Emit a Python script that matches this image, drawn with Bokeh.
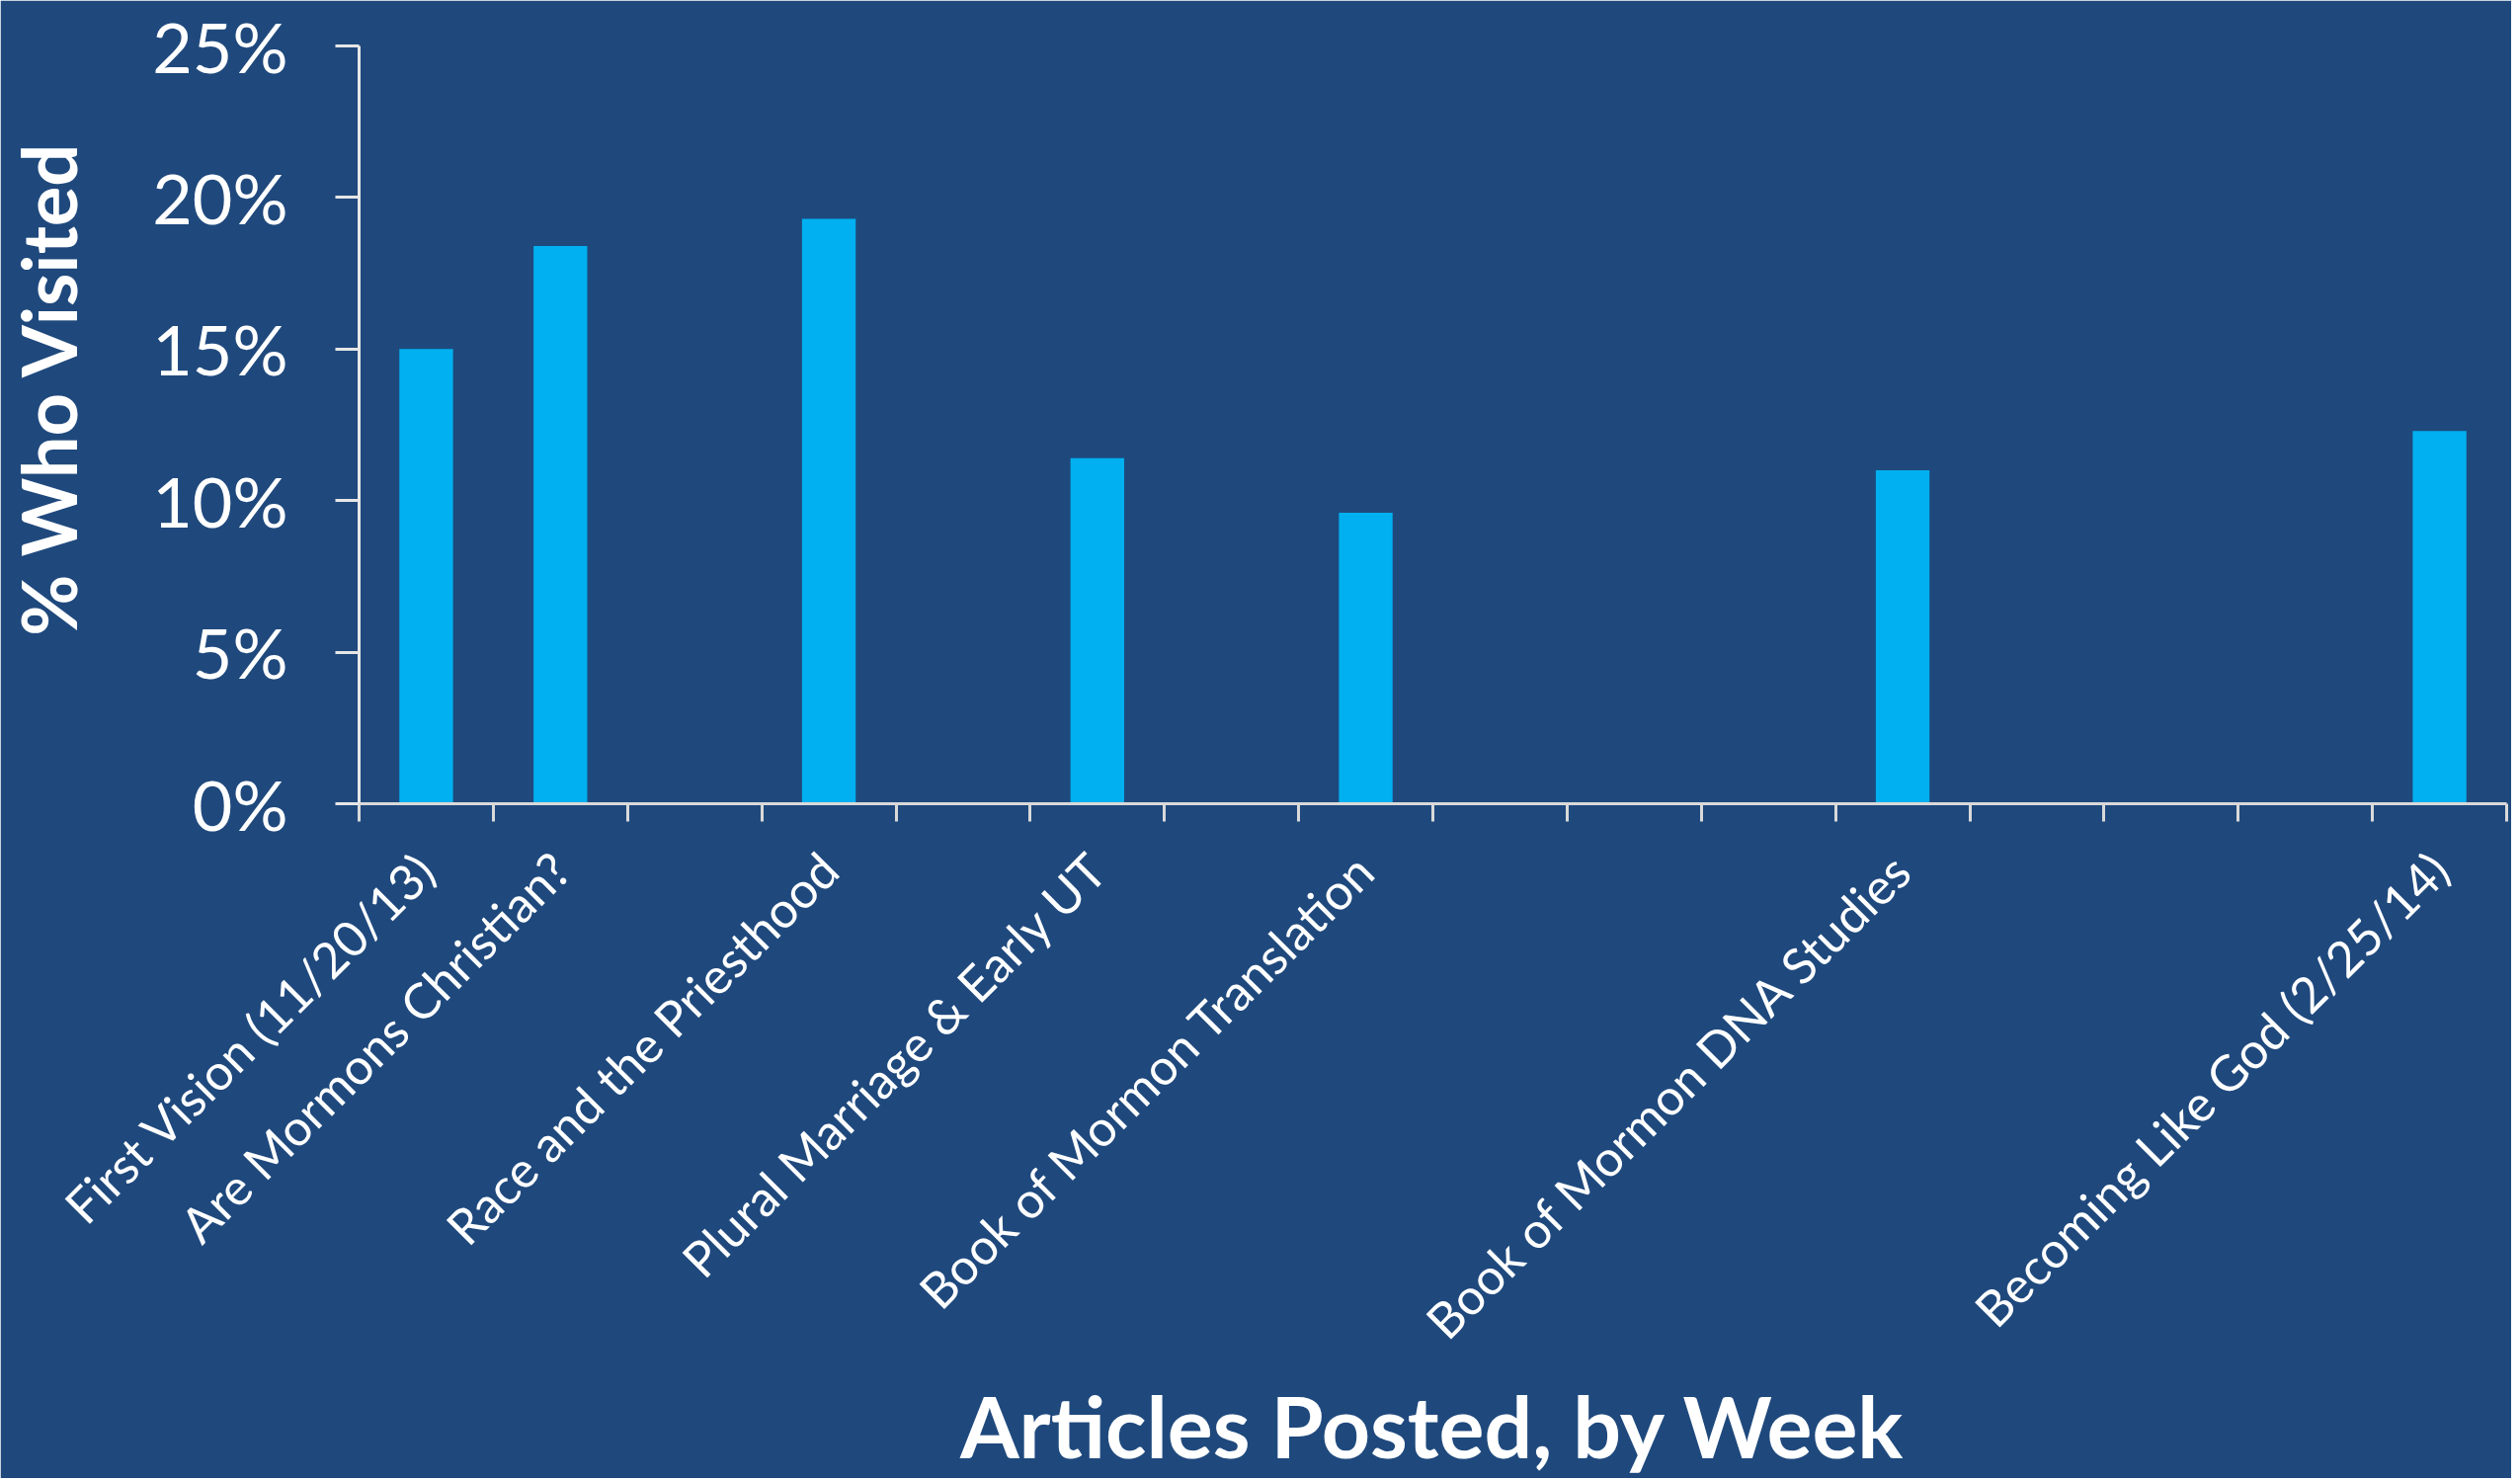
from bokeh.plotting import figure
from bokeh.models import Range1d, FixedTicker, NumeralTickFormatter
from bokeh.embed import file_html
from bokeh.resources import INLINE

# 16 weekly slots; only some weeks had an article posted
week_labels = [
    "First Vision (11/20/13)", "Are Mormons Christian?", "", "Race and the Priesthood",
    "", "Plural Marriage & Early UT", "", "Book of Mormon Translation",
    "", "", "", "Book of Mormon DNA Studies",
    "", "", "", "Becoming Like God (2/25/14)",
]
article_weeks = [0, 1, 3, 5, 7, 11, 15]
pct_visited = [0.150, 0.184, 0.193, 0.114, 0.096, 0.110, 0.123]
y_ticks = [0, 0.05, 0.10, 0.15, 0.20, 0.25]

BG = "#1F497D"
BAR = "#00B0F0"
FONT = "Lato"

n = len(week_labels)
centers = [i + 0.5 for i in range(n)]
bar_x = [w + 0.5 for w in article_weeks]

p = figure(frame_width=2174, frame_height=767, output_backend="svg", toolbar_location=None,
           x_range=Range1d(0, n), y_range=Range1d(0, 0.25),
           min_border_left=356, min_border_right=5, min_border_top=46, min_border_bottom=600)

p.vbar(x=bar_x, top=pct_visited, width=0.4, fill_color=BAR, line_color=None)

p.background_fill_color = BG
p.border_fill_color = BG
p.outline_line_color = BG
p.outline_line_width = 3
p.grid.visible = False

# x axis: labels at slot centres, tick marks at slot boundaries
xa = p.xaxis[0]
xa.ticker = FixedTicker(ticks=centers, minor_ticks=list(range(n + 1)))
xa.major_label_overrides = {c: lab for c, lab in zip(centers, week_labels)}
xa.major_tick_line_color = None
xa.major_tick_out = 0
xa.major_tick_in = 0
xa.minor_tick_line_color = "#D9D9D9"
xa.minor_tick_line_width = 3
xa.minor_tick_out = 18
xa.minor_tick_in = 0
xa.axis_line_color = "#D9D9D9"
xa.axis_line_width = 3
xa.major_label_orientation = 0.785398
xa.major_label_standoff = 40
xa.major_label_text_font = FONT
xa.major_label_text_font_size = "50px"
xa.major_label_text_color = "white"
xa.axis_label = "Articles Posted, by Week"
xa.axis_label_text_font = FONT
xa.axis_label_text_font_style = "bold"
xa.axis_label_text_font_size = "86px"
xa.axis_label_text_color = "white"
xa.axis_label_standoff = 0

ya = p.yaxis[0]
ya.ticker = FixedTicker(ticks=y_ticks)
ya.formatter = NumeralTickFormatter(format="0%")
ya.axis_line_color = "#E6E6E6"
ya.axis_line_width = 3
ya.major_tick_line_color = "#E6E6E6"
ya.major_tick_line_width = 3
ya.major_tick_out = 24
ya.major_tick_in = 0
ya.minor_tick_line_color = None
ya.major_label_standoff = 48
ya.major_label_text_font = FONT
ya.major_label_text_font_size = "70px"
ya.major_label_text_color = "white"
# leading no-break spaces lift the title slightly above the frame centre, as in the original
ya.axis_label = "\u00a0\u00a0\u00a0\u00a0% Who Visited"
ya.axis_label_text_font = FONT
ya.axis_label_text_font_style = "bold"
ya.axis_label_text_font_size = "76px"
ya.axis_label_text_color = "white"
ya.axis_label_standoff = 57

open("out.html", "w").write(file_html(p, INLINE))
